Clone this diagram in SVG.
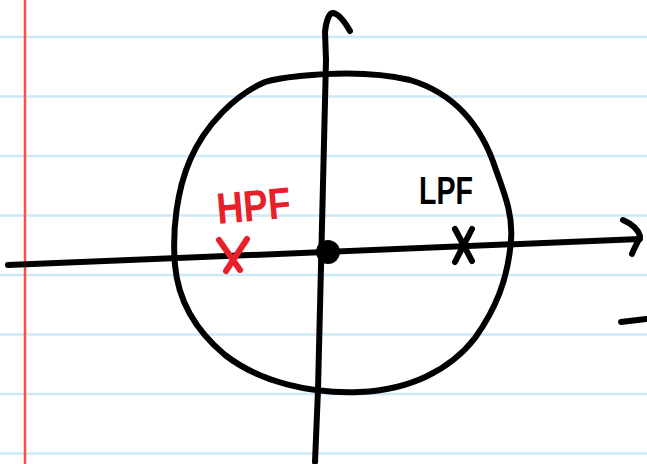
<svg xmlns="http://www.w3.org/2000/svg" width="647" height="464" viewBox="0 0 647 464">
<style>
.rule{stroke:#cce9f8;stroke-width:2.5}
.ink{fill:none;stroke:#000;stroke-width:6;stroke-linecap:round;stroke-linejoin:round}
.red{fill:none;stroke:#e8202a;stroke-width:6;stroke-linecap:round}
.lbl{font-family:"Liberation Sans",Arial,sans-serif;font-weight:bold}
</style>
<rect width="647" height="464" fill="#fff"/>
<g id="paper">
<line class="rule" x1="0" y1="37" x2="647" y2="37"/>
<line class="rule" x1="0" y1="96.5" x2="647" y2="96.5"/>
<line class="rule" x1="0" y1="156" x2="647" y2="156"/>
<line class="rule" x1="0" y1="215.5" x2="647" y2="215.5"/>
<line class="rule" x1="0" y1="275" x2="647" y2="275"/>
<line class="rule" x1="0" y1="334.5" x2="647" y2="334.5"/>
<line class="rule" x1="0" y1="394" x2="647" y2="394"/>
<line class="rule" x1="0" y1="453.5" x2="647" y2="453.5"/>
<line x1="25" y1="0" x2="25" y2="464" stroke="#ff4b4b" stroke-width="2.5"/>
</g>
<g id="circle">
<path class="ink" d="M300,76 C340,72 380,73 410,80 C450,92 480,120 496,170 C505,195 513,215 511,240 C508,280 495,310 475,338 C450,370 410,390 360,392 C310,394 260,382 225,355 C195,330 178,300 175,265 C172,230 177,190 190,160 C205,125 235,95 265,82 C278,78 290,77 300,76 Z"/>
</g>
<g id="connectors">
<path class="ink" d="M8,265 L640,239"/>
<path class="ink" d="M623,220 C632,224 638,229 640,236 C638,243 634,248 632,254"/>
<path class="ink" d="M315,462 L318,390 L326,60 L325,32 C326,22 329,13 333,13 C340,14 346,24 350,31"/>
<path class="ink" d="M621,322 L646,319"/>
</g>
<g id="origin"><circle cx="328" cy="252" r="12" fill="#000"/></g>
<g id="hpf">
<path class="red" d="M219,240 L240,270 M247,239 L226,271"/>
<text class="lbl" x="218" y="224" font-size="44" fill="#e8202a" textLength="74" lengthAdjust="spacingAndGlyphs" transform="rotate(-5 218 224)">HPF</text>
</g>
<g id="lpf">
<path class="ink" d="M455,229 L472,261 M472,229 L455,262" stroke-width="5"/>
<text class="lbl" x="419" y="204" font-size="38" fill="#000" textLength="54" lengthAdjust="spacingAndGlyphs">LPF</text>
</g>
</svg>
